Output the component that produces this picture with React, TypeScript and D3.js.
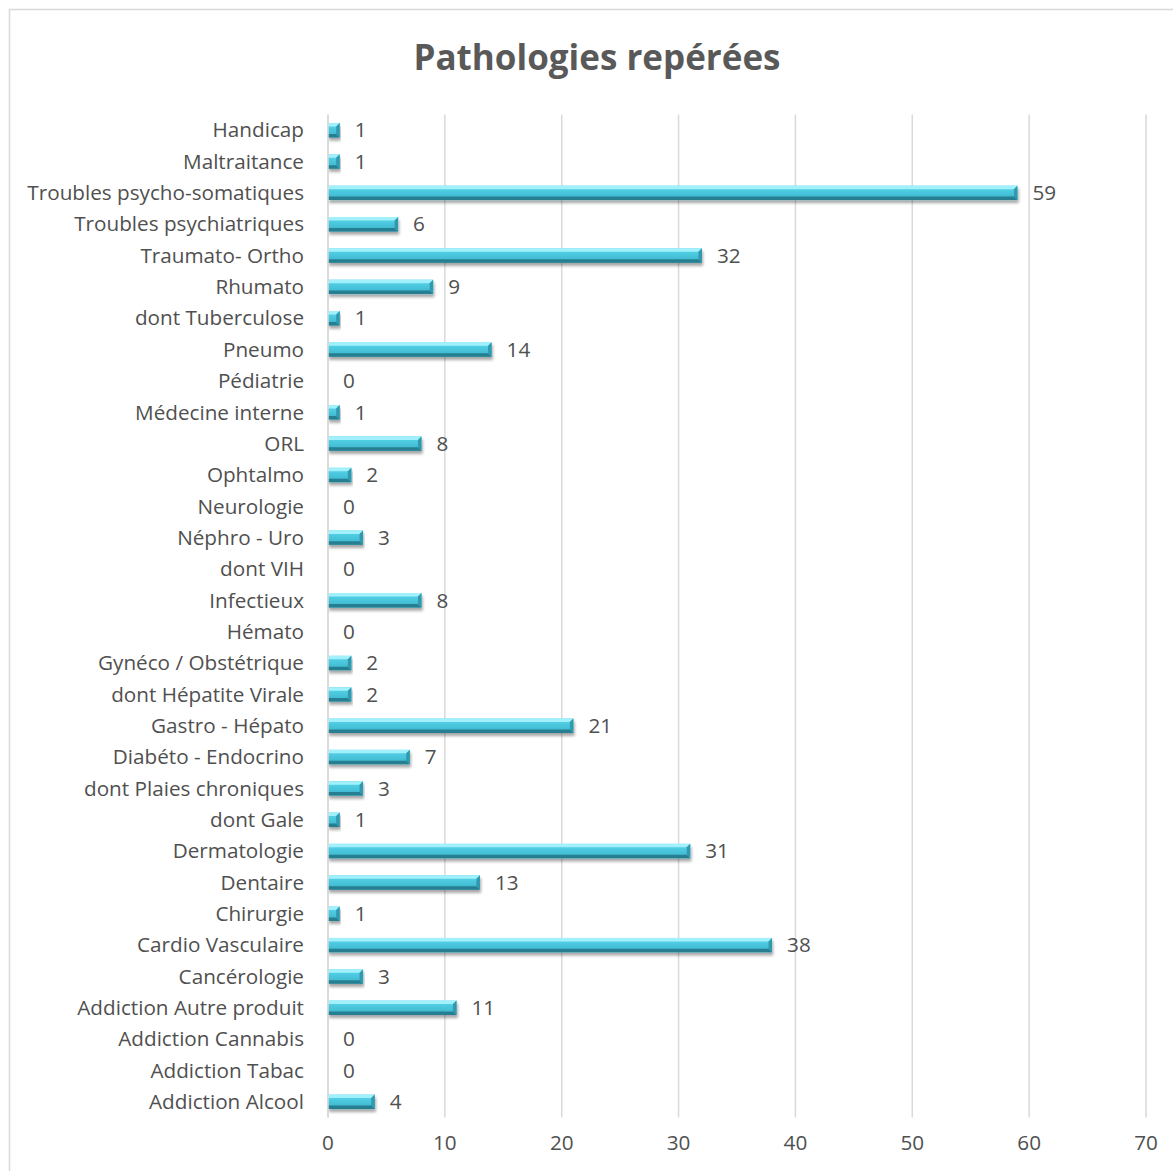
import React from "react";
import * as d3 from "d3";

const categories = [
  "Handicap",
  "Maltraitance",
  "Troubles psycho-somatiques",
  "Troubles psychiatriques",
  "Traumato- Ortho",
  "Rhumato",
  "dont Tuberculose",
  "Pneumo",
  "Pédiatrie",
  "Médecine interne",
  "ORL",
  "Ophtalmo",
  "Neurologie",
  "Néphro - Uro",
  "dont VIH",
  "Infectieux",
  "Hémato",
  "Gynéco / Obstétrique",
  "dont Hépatite Virale",
  "Gastro - Hépato",
  "Diabéto - Endocrino",
  "dont Plaies chroniques",
  "dont Gale",
  "Dermatologie",
  "Dentaire",
  "Chirurgie",
  "Cardio Vasculaire",
  "Cancérologie",
  "Addiction Autre produit",
  "Addiction Cannabis",
  "Addiction Tabac",
  "Addiction Alcool",
];

const values = [
  1, 1, 59, 6, 32, 9, 1, 14, 0, 1, 8, 2, 0, 3, 0, 8, 0, 2, 2, 21, 7, 3, 1, 31, 13, 1, 38, 3, 11, 0, 0, 4,
];

const xTicks = [0, 10, 20, 30, 40, 50, 60, 70];

const title = "Pathologies repérées";

const W = 1173;
const H = 1171;
const plotLeft = 328;
const plotRight = 1146;
const plotTop = 114.5;
const plotBottom = 1117.5;
const FONT = "'Open Sans', 'Noto Sans', sans-serif";
const TEXT = "#505050";
const FS = 20.7;

export default function App() {
  const x = d3.scaleLinear().domain([0, 70]).range([plotLeft, plotRight]);
  const y = d3
    .scaleBand<string>()
    .domain(categories)
    .range([plotTop, plotBottom])
    .paddingInner(0.54)
    .paddingOuter(0.27);

  const bh = y.bandwidth();
  const bev = 3.5;

  return (
    <svg
      width={W}
      height={H}
      style={{ position: "absolute", left: 0, top: 0, background: "#fff" }}
    >
      <defs>
        <filter id="shadow" x="-5%" y="-50%" width="110%" height="250%">
          <feGaussianBlur in="SourceAlpha" stdDeviation="1.5" />
          <feOffset dx="1" dy="2.5" result="ob" />
          <feComponentTransfer>
            <feFuncA type="linear" slope="0.35" />
          </feComponentTransfer>
          <feMerge>
            <feMergeNode />
            <feMergeNode in="SourceGraphic" />
          </feMerge>
        </filter>
        <linearGradient id="face" x1="0" y1="0" x2="0" y2="1">
          <stop offset="0" stopColor="#5ad8ec" />
          <stop offset="1" stopColor="#38b2cb" />
        </linearGradient>
      </defs>
      <rect x={9.5} y={9.5} width={W + 10} height={H + 10} fill="#fff" stroke="#d9d9d9" strokeWidth={1.5} />
      <text
        x={597}
        y={70}
        textAnchor="middle"
        fontFamily={FONT}
        fontWeight={700}
        fontSize={35}
        fill="#595959"
      >
        {title}
      </text>
      {xTicks.map((t) => (
        <g key={t}>
          <line
            x1={x(t)}
            x2={x(t)}
            y1={plotTop}
            y2={plotBottom}
            stroke="#d9d9d9"
            strokeWidth={1.5}
          />
          <text
            x={x(t)}
            y={1143}
            dy="0.35em"
            textAnchor="middle"
            fontFamily={FONT}
            fontSize={FS}
            fill={TEXT}
          >
            {t}
          </text>
        </g>
      ))}
      {categories.map((c, i) => {
        const v = values[i];
        const y0 = y(c)!;
        const x0 = x(0);
        const x1 = x(v);
        const cy = y0 + bh / 2;
        const w = x1 - x0;
        const b = Math.min(bev, w / 2);
        return (
          <g key={c}>
            <text
              x={304}
              y={cy}
              dy="0.35em"
              textAnchor="end"
              fontFamily={FONT}
              fontSize={FS}
              fill={TEXT}
            >
              {c}
            </text>
            {v > 0 && (
              <g filter="url(#shadow)">
                <rect x={x0} y={y0} width={w} height={bh} fill="url(#face)" />
                <polygon
                  points={`${x0},${y0} ${x1},${y0} ${x1 - b},${y0 + b} ${x0},${y0 + b}`}
                  fill="#a2f0fb"
                />
                <polygon
                  points={`${x0},${y0 + bh} ${x1},${y0 + bh} ${x1 - b},${y0 + bh - b} ${x0},${y0 + bh - b}`}
                  fill="#287f91"
                />
                <polygon
                  points={`${x1},${y0} ${x1},${y0 + bh} ${x1 - b},${y0 + bh - b} ${x1 - b},${y0 + b}`}
                  fill="#3198ad"
                />
              </g>
            )}
            <text
              x={x1 + 15}
              y={cy}
              dy="0.35em"
              fontFamily={FONT}
              fontSize={FS}
              fill={TEXT}
            >
              {v}
            </text>
          </g>
        );
      })}
      <line x1={plotLeft} x2={plotLeft} y1={plotTop} y2={plotBottom} stroke="#d9d9d9" strokeWidth={1.5} />
    </svg>
  );
}
